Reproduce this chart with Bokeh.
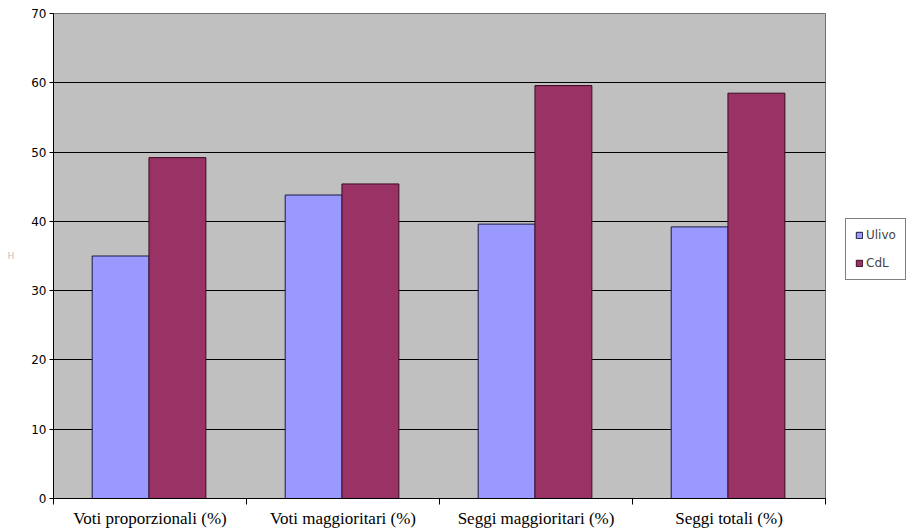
from bokeh.plotting import figure
from bokeh.models import (ColumnDataSource, Range1d, FixedTicker, Legend, LegendItem)
from bokeh.embed import file_html
from bokeh.resources import INLINE

categories = ["Voti proporzionali (%)", "Voti maggioritari (%)", "Seggi maggioritari (%)", "Seggi totali (%)"]
ulivo = [35.0, 43.8, 39.6, 39.2]
cdl = [49.2, 45.4, 59.6, 58.5]
series_names = ["Ulivo", "CdL"]
y_ticks = [0, 10, 20, 30, 40, 50, 60, 70]

n = len(categories)
centers = [i + 0.495 for i in range(n)]
bw = 0.295
off = 0.147

p = figure(frame_width=772, frame_height=485, output_backend="svg", toolbar_location=None,
           x_range=Range1d(0, n), y_range=Range1d(0, 70),
           min_border_left=53, min_border_right=90, min_border_top=13, min_border_bottom=31)
p.background_fill_color = "#C0C0C0"
p.border_fill_color = "white"
p.outline_line_color = "#707070"
p.outline_line_width = 1

src_u = ColumnDataSource(dict(x=[c - off for c in centers], top=ulivo))
src_c = ColumnDataSource(dict(x=[c + off for c in centers], top=cdl))
r1 = p.vbar(x="x", top="top", width=bw, bottom=0, source=src_u,
            fill_color="#9999FF", line_color="#1a1a40", line_width=1)
r2 = p.vbar(x="x", top="top", width=bw, bottom=0, source=src_c,
            fill_color="#993366", line_color="#3a0a20", line_width=1)

# x axis
xt = FixedTicker(ticks=[i + 0.5 for i in range(n)], minor_ticks=list(range(n + 1)))
p.xaxis.ticker = xt
p.xaxis.major_label_overrides = {i + 0.5: categories[i] for i in range(n)}
p.xaxis.major_tick_out = 0
p.xaxis.major_tick_in = 0
p.xaxis.minor_tick_out = 6
p.xaxis.minor_tick_in = 0
p.xaxis.minor_tick_line_color = "black"
p.xaxis.axis_line_color = "black"
p.xaxis.major_label_text_font = "Liberation Serif"
p.xaxis.major_label_text_font_size = "17px"
p.xaxis.major_label_text_color = "black"
p.xaxis.major_label_standoff = 4
p.xgrid.visible = False

# y axis
p.yaxis.ticker = FixedTicker(ticks=y_ticks)
p.yaxis.minor_tick_line_color = None
p.yaxis.major_tick_out = 4
p.yaxis.major_tick_in = 0
p.yaxis.major_tick_line_color = "black"
p.yaxis.axis_line_color = "black"
p.yaxis.major_label_text_font = "DejaVu Sans"
p.yaxis.major_label_text_font_size = "12px"
p.yaxis.major_label_text_color = "black"
p.yaxis.major_label_standoff = 3
p.yaxis.axis_label = "H"
p.yaxis.axis_label_orientation = 0
p.yaxis.axis_label_text_font = "DejaVu Sans"
p.yaxis.axis_label_text_font_style = "normal"
p.yaxis.axis_label_text_font_size = "9px"
p.yaxis.axis_label_text_color = "#c0c0c0"
p.yaxis.axis_label_standoff = 14
p.ygrid.grid_line_color = "black"
p.ygrid.grid_line_width = 1

legend = Legend(items=[LegendItem(label=series_names[0], renderers=[r1]),
                       LegendItem(label=series_names[1], renderers=[r2])],
                location=(20, 218))
legend.glyph_width = 8
legend.glyph_height = 8
legend.label_text_font = "DejaVu Sans"
legend.label_text_font_size = "12px"
legend.label_standoff = 3
legend.label_height = 14
legend.spacing = 14
legend.padding = 9
legend.margin = 0
legend.border_line_color = "black"
legend.border_line_width = 1
legend.background_fill_color = "white"
legend.label_width = 30
p.add_layout(legend, "right")

open("out.html", "w").write(file_html(p, INLINE))
